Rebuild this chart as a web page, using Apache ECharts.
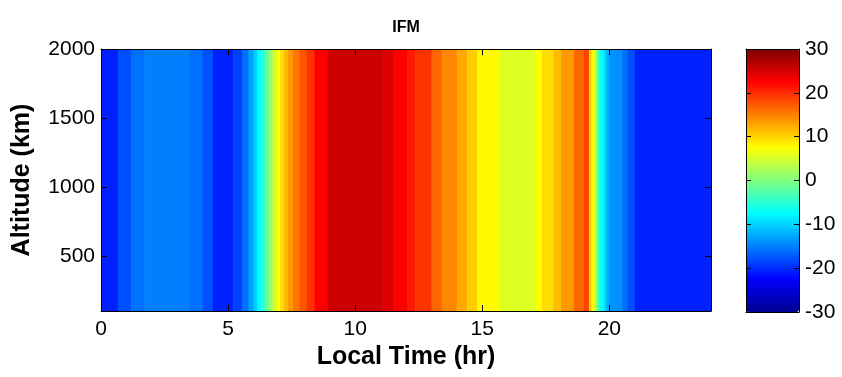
<!DOCTYPE html>
<html>
<head>
<meta charset="utf-8">
<script src="https://cdn.jsdelivr.net/npm/echarts@6/dist/echarts.min.js"></script>
<style>
html,body{margin:0;padding:0;background:#fff;}
#chart{width:842px;height:377px;}
</style>
</head>
<body>
<div id="chart"></div>
<script>
// Local time breakpoints (hr): each segment runs from one breakpoint to the next
const timeBreaks = [0, 0.66, 1.18, 1.70, 3.46, 4.00, 4.40, 5.20, 5.55, 5.80,
  6.00, 6.15, 6.30, 6.45, 6.60, 6.75, 6.90, 7.05, 7.20, 7.35,
  7.55, 7.80, 8.10, 8.40, 8.90, 11.06, 11.50, 12.05, 12.36, 13.00,
  13.40, 14.00, 14.40, 14.80, 15.70, 17.10, 17.35, 17.80, 18.10, 18.60,
  19.00, 19.20, 19.30, 19.42, 19.50, 19.58, 19.65, 19.80, 19.90, 20.00,
  20.50, 20.70, 21.00, 24.00];
// IFM value for each segment (same at all altitudes)
const ifmValues = [-20.6, -17.8, -15.9, -15.0, -15.9, -17.8, -20.6, -18.7, -15.9, -13.1,
  -10.3, -7.5, -4.5, -1.5, 1.5, 4.5, 7.5, 9.5, 11.5, 13.5,
  15.5, 17.5, 19.5, 22.5, 25.5, 24.5, 22.5, 21.0, 19.5, 16.5,
  14.5, 12.5, 10.5, 7.8, 5.5, 7.5, 9.5, 11.5, 13.5, 16.5,
  18.5, 10.0, 7.5, 3.0, -2.0, -6.0, -7.5, -10.3, -12.5, -14.0,
  -15.9, -17.8, -20.6];
const altitudeRange = [100, 2000];
const xTicks = [0, 5, 10, 15, 20];
const yTicks = [500, 1000, 1500, 2000];
const cbarRange = [-30, 30];
const jetColors = ['#00008F', '#0000FF', '#0080FF', '#00FFFF', '#80FF80', '#FFFF00', '#FF8000', '#FF0000', '#800000'];

const segData = [];
for (let i = 0; i < ifmValues.length; i++) {
  segData.push([timeBreaks[i], timeBreaks[i + 1], ifmValues[i]]);
}

const FONT = 'Liberation Sans, Arial, Helvetica, sans-serif';
const chart = echarts.init(document.getElementById('chart'));

const lineStyle = {color: '#000', width: 1};
const plain = function (v) { return String(v); };
function mainAxis(extra) {
  return Object.assign({
    gridIndex: 0, type: 'value', z: 10,
    axisLine: {show: true, onZero: false, lineStyle: lineStyle},
    splitLine: {show: false},
  }, extra);
}

chart.setOption({
  backgroundColor: '#fff',
  animation: false,
  title: {
    text: 'IFM', left: 401, top: 15, textAlign: 'center',
    textStyle: {fontFamily: FONT, fontWeight: 'bold', fontSize: 16, color: '#000'}
  },
  grid: [
    {left: 101, top: 49, width: 610, height: 262, containLabel: false, outerBoundsMode: 'none'},
    {left: 746, top: 49, width: 53, height: 263, containLabel: false, outerBoundsMode: 'none'}
  ],
  xAxis: [
    mainAxis({position: 'bottom', min: 0, max: 24,
      name: 'Local Time (hr)', nameLocation: 'middle', nameGap: 33,
      nameTextStyle: {fontFamily: FONT, fontWeight: 'bold', fontSize: 25, color: '#000'},
      axisTick: {inside: true, length: 6, lineStyle: lineStyle, customValues: xTicks},
      axisLabel: {fontFamily: FONT, fontSize: 21, color: '#000', margin: 8, customValues: xTicks, formatter: plain}}),
    mainAxis({position: 'top', min: 0, max: 24,
      axisTick: {inside: true, length: 6, lineStyle: lineStyle, customValues: xTicks},
      axisLabel: {show: false}}),
    {gridIndex: 1, type: 'value', min: 0, max: 1, position: 'bottom', z: 10,
      axisLine: {show: true, onZero: false, lineStyle: lineStyle}, axisTick: {show: false}, axisLabel: {show: false}, splitLine: {show: false}},
    {gridIndex: 1, type: 'value', min: 0, max: 1, position: 'top', z: 10,
      axisLine: {show: true, onZero: false, lineStyle: lineStyle}, axisTick: {show: false}, axisLabel: {show: false}, splitLine: {show: false}}
  ],
  yAxis: [
    mainAxis({position: 'left', min: altitudeRange[0], max: altitudeRange[1],
      name: 'Altitude (km)', nameLocation: 'middle', nameGap: 66, nameRotate: 90,
      nameTextStyle: {fontFamily: FONT, fontWeight: 'bold', fontSize: 25, color: '#000'},
      axisTick: {inside: true, length: 6, lineStyle: lineStyle, customValues: yTicks},
      axisLabel: {fontFamily: FONT, fontSize: 21, color: '#000', margin: 6, customValues: yTicks, formatter: plain}}),
    mainAxis({position: 'right', min: altitudeRange[0], max: altitudeRange[1],
      axisTick: {inside: true, length: 6, lineStyle: lineStyle, customValues: yTicks},
      axisLabel: {show: false}}),
    {gridIndex: 1, type: 'value', min: cbarRange[0], max: cbarRange[1], interval: 10, position: 'right', z: 10,
      axisLine: {show: true, onZero: false, lineStyle: lineStyle},
      axisTick: {inside: true, length: 5, lineStyle: lineStyle},
      axisLabel: {fontFamily: FONT, fontSize: 21, color: '#000', margin: 6, formatter: plain},
      splitLine: {show: false}},
    {gridIndex: 1, type: 'value', min: cbarRange[0], max: cbarRange[1], interval: 10, position: 'left', z: 10,
      axisLine: {show: true, onZero: false, lineStyle: lineStyle},
      axisTick: {inside: true, length: 5, lineStyle: lineStyle},
      axisLabel: {show: false}, splitLine: {show: false}}
  ],
  visualMap: {
    type: 'continuous', seriesIndex: 0, dimension: 2,
    min: cbarRange[0], max: cbarRange[1],
    orient: 'vertical', left: 746, top: 49, padding: 0,
    itemWidth: 53, itemHeight: 263, text: null,
    calculable: false, hoverLink: false, realtime: false,
    inRange: {color: jetColors}
  },
  series: [{
    type: 'custom',
    xAxisIndex: 0, yAxisIndex: 0,
    dimensions: ['start', 'end', 'value'],
    encode: {x: [0, 1], tooltip: 2},
    data: segData,
    clip: true,
    renderItem: function (params, api) {
      const p0 = api.coord([api.value(0), altitudeRange[1]]);
      const p1 = api.coord([api.value(1), altitudeRange[0]]);
      return {
        type: 'rect',
        shape: {x: p0[0], y: p0[1], width: p1[0] - p0[0] + 0.6, height: p1[1] - p0[1]},
        style: {fill: api.visual('color'), stroke: null}
      };
    }
  }]
});
</script>
</body>
</html>
